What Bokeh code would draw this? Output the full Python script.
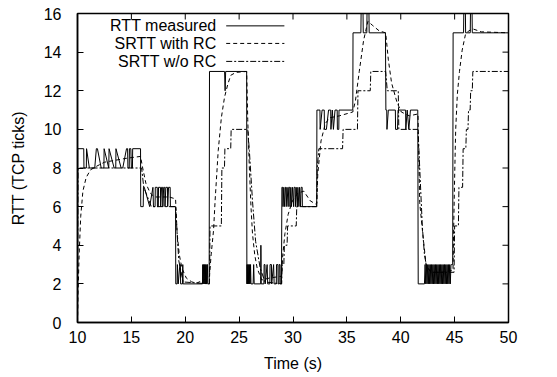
import math
from bokeh.plotting import figure
from bokeh.models import Range1d, FixedTicker, Label, Arrow
from bokeh.embed import file_html
from bokeh.resources import INLINE

# ---------------- data ----------------
x_ticks = [10, 15, 20, 25, 30, 35, 40, 45, 50]
y_ticks = [0, 2, 4, 6, 8, 10, 12, 14, 16]

legend_labels = ["RTT measured", "SRTT with RC", "SRTT w/o RC"]

# RTT measured (time in s, value in TCP ticks)
t_rtt = [
    10.00, 10.02, 10.58, 10.60, 10.82, 10.84, 11.10, 11.60, 11.75, 11.85, 12.20, 12.45, 12.47, 12.90,
    12.93, 13.40, 13.55, 13.57, 14.05, 14.20, 14.55, 14.65, 14.68, 14.80, 14.82, 14.95, 15.00, 15.10,
    15.12, 15.85,
    15.87, 16.10, 16.12, 16.20, 16.70, 17.00, 17.05, 17.20, 17.22, 17.40, 17.42, 17.50, 17.52, 17.70,
    17.72, 17.80, 17.90, 17.92, 18.00, 18.10, 18.12, 18.20, 18.35, 18.37, 18.45, 18.60, 18.62, 19.10,
    19.12, 19.25, 19.27, 19.35, 19.50, 19.55, 19.57, 19.75, 19.77, 19.80, 21.60, 21.62, 21.66, 21.70,
    21.74, 21.78, 21.82, 21.86, 21.90, 21.94, 21.98, 22.02, 22.06, 22.08, 22.22,
    22.25, 23.65, 23.70, 23.75, 25.70,
    25.72, 25.74, 25.78, 25.82, 25.86, 25.90, 25.94, 25.98, 26.02, 26.06, 26.10, 26.30, 26.35, 26.40,
    27.00, 27.02, 27.05, 27.30, 27.32, 27.40, 27.42, 27.60, 27.65, 27.85, 27.87, 28.00, 28.02, 28.20,
    28.25, 28.45, 28.47, 28.60, 28.62, 28.70, 28.72, 28.80, 28.82, 28.93,
    28.97, 29.05, 29.07, 29.15, 29.20, 29.30, 29.35, 29.37, 29.45, 29.55, 29.60, 29.70, 29.72, 29.80,
    29.85, 29.95, 30.05, 30.10, 30.20, 30.22, 30.30, 30.40, 30.45, 30.55, 30.60, 30.70, 30.75, 30.85,
    30.87, 32.20,
    32.22, 32.50, 32.52, 32.70, 32.90, 32.92, 33.10, 33.30, 33.50, 33.52, 33.65, 33.75, 33.90, 34.10,
    34.12, 34.25, 34.27, 35.55,
    35.57, 36.30, 36.32, 36.50, 36.52, 36.85, 36.87, 37.05, 37.07, 38.58,
    38.62, 38.70, 38.72, 38.85, 39.50, 39.52, 39.70, 39.75, 40.45, 40.47, 40.60, 40.75, 40.90, 41.58,
    41.62, 42.20, 42.26, 42.32, 42.38, 42.44, 42.50, 42.56, 42.62, 42.68, 42.74, 42.80, 42.86, 42.92,
    42.98, 43.04, 43.10, 43.16, 43.22, 43.28, 43.34, 43.40, 43.46, 43.52, 43.58, 43.64, 43.70, 43.76,
    43.82, 43.88, 43.94, 44.00, 44.06, 44.12, 44.18, 44.24, 44.30, 44.36, 44.42, 44.48, 44.54, 44.60,
    44.66, 44.72, 44.82,
    44.86, 45.83, 45.85, 46.00, 46.02, 46.45, 46.47, 46.62, 46.64, 50.00,
]
rtt = [
    0, 9, 9, 8, 8, 9, 8, 8, 9, 9, 8, 8, 9, 8,
    9, 8, 8, 9, 8, 8, 9, 9, 8, 8, 9, 9, 8, 8,
    9, 9,
    6, 6, 7, 7, 6, 7, 6, 6, 7, 7, 6, 6, 7, 7,
    6, 7, 7, 6, 7, 7, 6, 7, 7, 6, 7, 7, 6, 6,
    2, 2, 3, 2, 3, 3, 2, 2, 3, 2, 2, 3, 2, 3,
    2, 3, 2, 3, 2, 3, 2, 3, 3, 2, 2,
    13, 13, 12, 13, 13,
    2, 3, 2, 3, 2, 3, 2, 3, 2, 3, 2, 2, 3, 2,
    2, 4, 2, 2, 3, 3, 2, 3, 2, 2, 3, 3, 2, 3,
    2, 2, 3, 3, 2, 2, 3, 3, 2, 2,
    7, 7, 6, 7, 6, 7, 7, 6, 7, 6, 7, 7, 6, 7,
    6, 7, 6, 7, 7, 6, 7, 6, 7, 6, 7, 6, 7, 7,
    6, 6,
    11, 11, 10, 11, 11, 10, 10, 11, 11, 10, 11, 10, 11, 11,
    10, 10, 11, 11,
    15, 15, 16, 16, 15, 15, 16, 16, 15, 15,
    11, 11, 10, 11, 11, 10, 10, 11, 11, 10, 11, 10, 11, 11,
    2, 2, 3, 2, 3, 2, 3, 2, 3, 2, 3, 2, 3, 2,
    3, 2, 3, 2, 3, 2, 3, 2, 3, 2, 3, 2, 3, 2,
    3, 2, 3, 2, 3, 2, 3, 2, 3, 2, 3, 2, 3, 2,
    3, 3, 3,
    15, 15, 16, 16, 15, 15, 16, 16, 15, 15,
]

# SRTT with RC
t_rc = [
    10.00, 10.05, 10.15, 10.30, 10.50, 10.80, 11.20, 11.80, 12.50, 13.50, 14.50, 15.85,
    16.05, 16.35, 16.75, 17.15, 18.50, 19.10,
    19.25, 19.45, 19.70, 20.10, 20.60, 21.10, 21.70, 22.25,
    22.40, 22.63, 22.77, 23.06, 23.35, 23.64, 23.93, 24.22, 24.70, 25.70,
    25.80, 25.95, 26.10, 26.24, 26.45, 26.68, 27.10, 27.80, 28.95,
    29.05, 29.25, 29.55, 29.95, 30.45, 31.00, 31.60, 32.20,
    32.30, 32.60, 33.00, 33.40, 34.30, 35.55,
    35.80, 36.15, 36.55, 36.95, 37.35, 38.00, 38.60,
    38.85, 39.15, 39.65, 40.05, 40.80, 41.60,
    41.76, 42.06, 42.35, 42.80, 43.80, 44.85,
    44.90, 45.00, 45.10, 45.25, 45.45, 45.70, 46.00, 46.30, 46.70, 47.50, 50.00, 50.00,
]
srtt_rc = [
    0, 1.5, 3.5, 5.5, 6.8, 7.5, 7.9, 8.1, 8.3, 8.4, 8.5, 8.6,
    8.0, 7.2, 6.7, 6.5, 6.5, 6.4,
    4.6, 3.5, 2.8, 2.3, 2.1, 2.05, 2.2, 2.4,
    3.5, 4.8, 6.3, 8.9, 10.6, 11.65, 12.3, 12.8, 12.95, 13.0,
    10.5, 8.0, 6.0, 4.6, 3.5, 2.8, 2.2, 2.3, 2.4,
    3.5, 4.6, 5.6, 6.3, 6.7, 6.8, 6.3, 6.1,
    7.7, 9.4, 10.3, 10.6, 10.7, 10.9,
    11.5, 13.0, 14.6, 15.6, 15.4, 15.1, 15.0,
    13.6, 12.4, 11.4, 10.9, 10.7, 10.8,
    6.2, 4.5, 3.0, 2.6, 2.6, 2.7,
    4.5, 7.5, 10.0, 11.8, 13.0, 14.1, 14.9, 15.1, 15.2, 15.05, 15.0, 0,
]

# SRTT without RC
t_norc = [
    10.00, 10.05, 15.85, 15.95, 16.15, 16.85, 19.10, 19.40, 19.80, 22.25,
    22.30, 23.35, 23.40, 23.64, 23.68, 24.22, 24.26, 25.70,
    25.80, 25.95, 26.24, 26.53, 26.96, 27.40, 28.95,
    29.00, 29.15, 29.20, 29.45, 29.50, 30.30, 30.35, 32.20,
    32.25, 32.40, 34.60, 34.65, 35.98, 36.03, 37.17, 37.22, 38.60,
    38.75, 39.77, 39.82, 41.60,
    41.80, 42.00, 42.20, 42.40, 42.80, 44.95,
    45.00, 45.35, 45.40, 45.74, 45.79, 46.04, 46.09, 46.24, 46.29, 46.44, 46.49, 46.64, 46.69, 50.00, 50.00,
]
srtt_norc = [
    0, 8, 8, 8, 7, 6, 6, 3.2, 2.1, 2,
    5, 5, 8, 8, 9, 9, 10, 10,
    10, 8.9, 6.3, 4.2, 2.8, 2.1, 2,
    3, 3, 4, 4, 5, 5, 6, 6,
    8, 9, 9, 10, 10, 12, 12, 13, 13,
    12, 12, 10, 10,
    7.5, 5.0, 3.5, 2.9, 2.6, 2.6,
    5, 5, 7, 7, 9, 9, 10, 10, 11, 11, 12, 12, 13, 13, 0,
]

# ---------------- styling ----------------
FONT = "Liberation Sans"
FS = "16px"
X0, X1 = 10, 50
Y0, Y1 = 0, 16

p = figure(width=557, height=377, x_range=Range1d(X0, X1), y_range=Range1d(Y0, Y1),
           output_backend="svg", toolbar_location=None,
           min_border_left=77, min_border_right=49, min_border_top=13, min_border_bottom=55)
p.background_fill_color = "white"
p.border_fill_color = "white"
p.outline_line_color = "black"
p.outline_line_width = 1.5
p.xgrid.visible = False
p.ygrid.visible = False


def style_axis(ax, ticks):
    ax.ticker = FixedTicker(ticks=ticks)
    ax.major_tick_in = 6
    ax.major_tick_out = 0
    ax.minor_tick_in = 0
    ax.minor_tick_out = 0
    ax.axis_line_color = "black"
    ax.axis_line_width = 1.5
    ax.major_tick_line_color = "black"
    ax.major_tick_line_width = 1
    ax.major_label_text_font = FONT
    ax.axis_label_text_font = FONT
    ax.axis_label_text_font_style = "normal"
    ax.major_label_text_color = "black"
    ax.axis_label_text_color = "black"
    ax.major_label_text_font_size = FS
    ax.axis_label_text_font_size = FS


style_axis(p.xaxis[0], x_ticks)
style_axis(p.yaxis[0], y_ticks)
p.xaxis[0].axis_label = "Time (s)"
p.yaxis[0].axis_label = "RTT (TCP ticks)"
p.xaxis[0].major_label_standoff = 8
p.xaxis[0].axis_label_standoff = 9
p.yaxis[0].major_label_standoff = 16
p.yaxis[0].axis_label_standoff = 14

# mirrored inward ticks on the top and right borders (gnuplot style)
p.ray(x=x_ticks, y=[Y1] * len(x_ticks), length=6, length_units="screen",
      angle=-math.pi / 2, line_color="black", line_width=1)
p.ray(x=[X1] * len(y_ticks), y=y_ticks, length=6, length_units="screen",
      angle=math.pi, line_color="black", line_width=1)

# ---------------- series ----------------
p.line(t_norc, srtt_norc, line_color="black", line_width=1, line_dash="6 2 2 2")
p.line(t_rc, srtt_rc, line_color="black", line_width=1, line_dash="4 3")
p.line(t_rtt, rtt, line_color="black", line_width=1)

# ---------------- legend (gnuplot style: text left, sample right) ----------------
leg_rows = [15.36, 14.45, 13.52]
leg_dash = ["solid", "4 3", "6 2 2 2"]
for lbl, yy, dsh in zip(legend_labels, leg_rows, leg_dash):
    p.add_layout(Label(x=22.9, y=yy, text=lbl, text_align="right", text_baseline="middle",
                       text_font=FONT, text_font_size=FS, text_color="black"))
    p.add_layout(Arrow(end=None, x_start=23.8, y_start=yy, x_end=29.2, y_end=yy,
                       line_color="black", line_width=1, line_dash=dsh))

open("out.html", "w").write(file_html(p, INLINE))
